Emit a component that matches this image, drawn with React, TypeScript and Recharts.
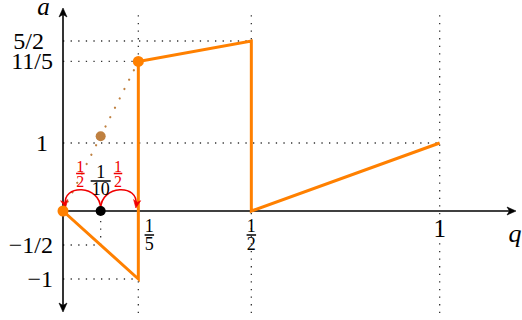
import React from 'react';
import { ComposedChart, Line, Scatter, XAxis, YAxis, ReferenceLine, ReferenceDot } from 'recharts';

// ---------- data ----------
const mainQ = [0, 0.2, 0.2, 0.5, 0.5, 1];
const mainA = [0, -1, 2.2, 2.5, 0, 1];
const mainSeries = mainQ.map((q, i) => ({ q, a: mainA[i] }));

const secantQ = [0, 0.2];
const secantA = [0, 2.2];
const secantSeries = secantQ.map((q, i) => ({ q, a: secantA[i] }));

const orangeQ = [0, 0.2];
const orangeA = [0, 2.2];
const orangePoints = orangeQ.map((q, i) => ({ q, a: orangeA[i] }));
const brownPoints = [{ q: 0.1, a: 1.1 }];
const blackPoints = [{ q: 0.1, a: 0 }];

const yTickValues = [2.5, 2.2, 1, -0.5, -1];
const yTickLabels = ['5/2', '11/5', '1', '\u22121/2', '\u22121'];

const xTickValues = [0.2, 0.5, 1];
const xTickNums = ['1', '1', '1'];
const xTickDens = ['5', '2', ''];

const hGuideA = [2.5, 2.2, 1, -0.5, -1];
const hGuideEndQ = [0.5, 0.2, 1, 0.1, 0.2];
const vGuideQ = [0.2, 0.5, 1, 0.1];
const vGuideFrom = [-1.5, -1.5, -1.5, -0.5];
const vGuideTo = [2.9, 2.9, 2.9, 0];

const arcStartQ = 0.1;
const arcEndQ = [0, 0.2];
const arcNum = '1';
const arcDen = '2';
const stepNum = '1';
const stepDen = '10';

const Q_DOMAIN: [number, number] = [0, 1.2];
const A_DOMAIN: [number, number] = [-1.5, 3];

// ---------- styles ----------
const FONT = "'Liberation Serif', 'DejaVu Serif', serif";
const ORANGE = '#ff8000';
const BROWN = '#bf8040';
const RED = '#f00000';
const yLabelDx: Record<string, number> = { '5/2': -9, '1': -5 };

const txt = (extra: any = {}) => ({ fontFamily: FONT, ...extra });

const arrowHead = (x: number, y: number, dx: number, dy: number, color: string, L = 9, W = 4, N = 6.5) => {
  const len = Math.hypot(dx, dy) || 1;
  const ux = dx / len, uy = dy / len;
  const px = -uy, py = ux;
  const bx = x - ux * L, by = y - uy * L;
  const nx = x - ux * N, ny = y - uy * N;
  const d = `M${x},${y} L${bx + px * W},${by + py * W} L${nx},${ny} L${bx - px * W},${by - py * W} Z`;
  return <path d={d} fill={color} stroke={color} strokeWidth={0.6} strokeLinejoin="round" />;
};

const Frac = ({ x, bar, num, den, size, color, barW, gapN = 2.5, gapD = 0.8 }: any) => (
  <g>
    <text x={x} y={bar - gapN} textAnchor="middle" style={txt({ fontSize: size, fill: color })}>{num}</text>
    <line x1={x - barW / 2} x2={x + barW / 2} y1={bar} y2={bar} stroke={color} strokeWidth={1.5} />
    <text x={x} y={bar + size * gapD} textAnchor="middle" style={txt({ fontSize: size, fill: color })}>{den}</text>
  </g>
);

const XAxisShape = (p: any) => {
  const { x1, y1, x2, y2 } = p;
  return (
    <g>
      <line x1={x1} y1={y1} x2={x2 - 3} y2={y2} stroke="#000" strokeWidth={1.6} />
      {arrowHead(x2 + 1, y2, 1, 0, '#000')}
      <text x={x2} y={y2 + 31} textAnchor="middle" style={txt({ fontSize: 26, fontStyle: 'italic' })}>q</text>
    </g>
  );
};

const YAxisShape = (p: any) => {
  const { x1, y1, x2, y2 } = p;
  return (
    <g>
      <line x1={x1} y1={y1 - 3} x2={x2} y2={y2 + 3} stroke="#000" strokeWidth={1.6} />
      {arrowHead(x2, y2 + 1, 0, -1, '#000')}
      {arrowHead(x1, y1 - 1, 0, 1, '#000')}
      <text x={x2 - 19.5} y={y2 + 8} textAnchor="middle" style={txt({ fontSize: 25, fontStyle: 'italic' })}>a</text>
    </g>
  );
};

const ArcShape = (p: any) => {
  const { x1, y1, x2, y2 } = p;
  const s = Math.sign(x2 - x1);
  const ex = x2 - s * 2.5, ey = y2 - 3;
  const c1x = x1, c1y = y1 - 27;
  const c2x = ex + s * 4, c2y = ey - 24;
  return (
    <g>
      <path d={`M${x1},${y1 - 2} C${c1x},${c1y} ${c2x},${c2y} ${ex},${ey - 3}`} fill="none" stroke={RED} strokeWidth={1.6} />
      {arrowHead(ex, ey, ex - c2x, ey - c2y, RED, 8, 3.6, 5.5)}
      <Frac x={(x1 + x2) / 2 - 1.5} bar={y1 - 37.5} num={arcNum} den={arcDen} size={16} color={RED} barW={8.5} gapN={1.5} gapD={0.86} />
    </g>
  );
};

const renderYTick = (props: any) => {
  const { x, y, payload } = props;
  const i = yTickValues.indexOf(payload.value);
  const label = yTickLabels[i] ?? '';
  const dx = yLabelDx[label] ?? 0;
  return (
    <text x={x - 10 + dx} y={y + 8} textAnchor="end" style={txt({ fontSize: 24, fill: '#000' })}>{label}</text>
  );
};

const dot = (r: number, color: string) => (p: any) => <circle cx={p.cx} cy={p.cy} r={r} fill={color} />;

export default function App() {
  return (
    <div style={{ position: 'absolute', left: 0, top: 0, background: '#fff' }}>
      <ComposedChart width={522} height={320} margin={{ top: 7, right: 7, bottom: 7, left: 0 }}>
        <XAxis type="number" dataKey="q" domain={Q_DOMAIN} hide height={0} />
        <YAxis
          type="number"
          dataKey="a"
          domain={A_DOMAIN}
          width={63}
          axisLine={false}
          tickLine={false}
          tickSize={0}
          tickMargin={0}
          ticks={yTickValues}
          interval={0}
          tick={renderYTick}
        />
        {vGuideQ.map((q, i) => (
          <ReferenceLine key={`v${i}`} ifOverflow="visible" segment={[{ x: q, y: vGuideFrom[i] }, { x: q, y: vGuideTo[i] }]} stroke="#333" strokeWidth={1.3} strokeDasharray="1.3 6.3" />
        ))}
        {hGuideA.map((a, i) => (
          <ReferenceLine key={`h${i}`} ifOverflow="visible" segment={[{ x: 0, y: a }, { x: hGuideEndQ[i], y: a }]} stroke="#333" strokeWidth={1.3} strokeDasharray="1.3 6.3" />
        ))}
        <ReferenceLine ifOverflow="visible" segment={[{ x: Q_DOMAIN[0], y: 0 }, { x: Q_DOMAIN[1], y: 0 }]} shape={XAxisShape} />
        <ReferenceLine ifOverflow="visible" segment={[{ x: 0, y: A_DOMAIN[0] }, { x: 0, y: A_DOMAIN[1] }]} shape={YAxisShape} />
        {xTickValues.map((q, i) => (
          <ReferenceDot
            key={`xt${i}`}
            x={q}
            y={0}
            r={0}
            ifOverflow="visible"
            shape={(p: any) =>
              xTickDens[i] ? (
                <Frac x={p.cx + (i === 0 ? 11 : 0)} bar={p.cy + 24} num={xTickNums[i]} den={xTickDens[i]} size={18} color="#000" barW={9.5} gapN={3} gapD={0.83} />
              ) : (
                <text x={p.cx} y={p.cy + 26} textAnchor="middle" style={txt({ fontSize: 25 })}>{xTickNums[i]}</text>
              )
            }
          />
        ))}
        <Line data={secantSeries} dataKey="a" type="linear" stroke={BROWN} strokeWidth={2.2} strokeLinecap="round" strokeDasharray="0.1 10.4" dot={false} activeDot={false} isAnimationActive={false} />
        <Line data={mainSeries} dataKey="a" type="linear" stroke={ORANGE} strokeWidth={3} dot={false} activeDot={false} isAnimationActive={false} />
        <Scatter data={brownPoints} dataKey="a" shape={dot(5, BROWN)} isAnimationActive={false} />
        <Scatter data={orangePoints} dataKey="a" shape={dot(5.5, ORANGE)} isAnimationActive={false} />
        <Scatter data={blackPoints} dataKey="a" shape={dot(5, '#000')} isAnimationActive={false} />
        {arcEndQ.map((q, i) => (
          <ReferenceLine key={`arc${i}`} ifOverflow="visible" segment={[{ x: arcStartQ, y: 0 }, { x: q, y: 0 }]} shape={ArcShape} />
        ))}
        <ReferenceDot
          x={arcStartQ}
          y={0}
          r={0}
          ifOverflow="visible"
          shape={(p: any) => <Frac x={p.cx} bar={p.cy - 30} num={stepNum} den={stepDen} size={18} color="#000" barW={20} gapN={3} gapD={0.78} />}
        />
      </ComposedChart>
    </div>
  );
}
